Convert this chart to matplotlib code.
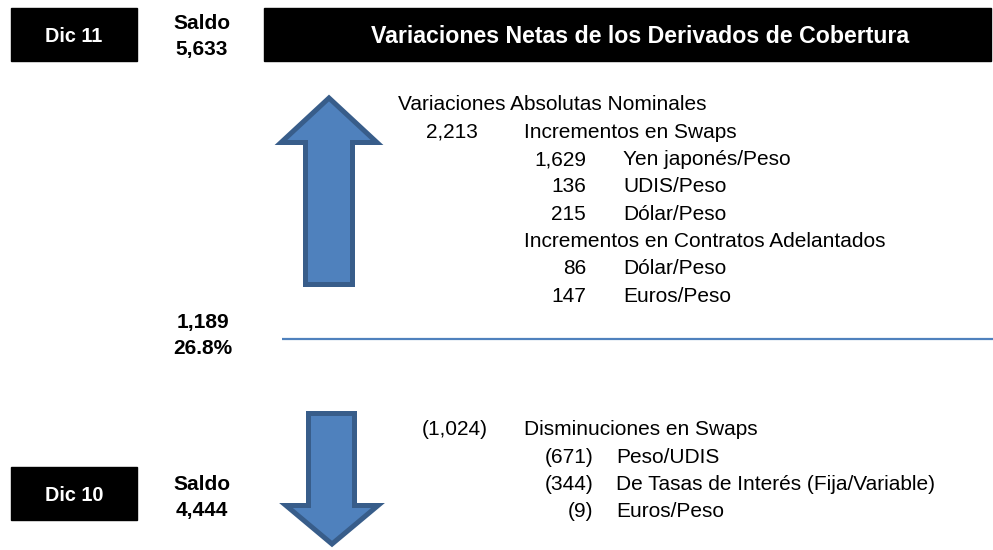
import matplotlib.pyplot as plt
from matplotlib.patches import Polygon, Rectangle

plt.rcParams['font.family'] = ['Liberation Sans', 'DejaVu Sans']

# Datos
titulo = 'Variaciones Netas de los Derivados de Cobertura'
encabezado = 'Variaciones Absolutas Nominales'
periodos = ['Dic 11', 'Dic 10']
saldos = [5633, 4444]

inc_swaps_total = 2213
inc_swaps_labels = ['Yen japonés/Peso', 'UDIS/Peso', 'Dólar/Peso']
inc_swaps_values = [1629, 136, 215]

inc_fwd_title = 'Incrementos en Contratos Adelantados'
inc_fwd_labels = ['Dólar/Peso', 'Euros/Peso']
inc_fwd_values = [86, 147]

dec_swaps_total = -1024
dec_swaps_labels = ['Peso/UDIS', 'De Tasas de Interés (Fija/Variable)', 'Euros/Peso']
dec_swaps_values = [-671, -344, -9]

variacion = saldos[0] - saldos[1]
variacion_pct = variacion / saldos[1] * 100

AZUL = '#4F81BD'
AZUL_BORDE = '#385D8A'
TAM = 15


def fmt(v):
    if v < 0:
        return '({:,})'.format(abs(v))
    return '{:,}'.format(v)


fig = plt.figure(figsize=(9.93, 5.5), dpi=100)
ax = fig.add_axes([0, 0, 1, 1])
ax.set_xlim(0, 993)
ax.set_ylim(550, 0)
ax.axis('off')


def txt(x, y, s, size=TAM, **kw):
    # y es el centro de las mayusculas
    ax.text(x, y + 0.358 * size * 100 / 72, s, fontsize=size, va='baseline', **kw)


def numero(x_der, y, v, size=TAM):
    # formato contable: los positivos dejan hueco para el parentesis
    x = x_der if v < 0 else x_der - 7
    txt(x, y, fmt(v), size, ha='right')


# Cajas negras
for y0, per in zip([8, 467], periodos):
    ax.add_patch(Rectangle((11, y0), 126, 53, color='black'))
    txt(74, y0 + 26.5, per, 14.3, color='white', weight='bold', ha='center')
ax.add_patch(Rectangle((264, 8), 727, 53, color='black'))
txt(640, 34.5, titulo, 16.7, color='white', weight='bold', ha='center')

# Saldos
for yc, s in zip([22, 483], saldos):
    txt(201.5, yc, 'Saldo', 15, weight='bold', ha='center')
    txt(201.5, yc + 25.5, fmt(s), 15, weight='bold', ha='center')

txt(203, 321, fmt(variacion), 15, weight='bold', ha='center')
txt(203, 347, '{:.1f}%'.format(variacion_pct), 15, weight='bold', ha='center')

# Linea horizontal
ax.plot([282, 993], [339, 339], color=AZUL, lw=1.6, solid_capstyle='butt')

# Flechas
up = [(329, 98), (377, 142.5), (352.5, 142.5), (352.5, 284.5), (305.5, 284.5),
      (305.5, 142.5), (281, 142.5)]
ax.add_patch(Polygon(up, closed=True, facecolor=AZUL, edgecolor=AZUL_BORDE,
                     lw=3.6, joinstyle='miter'))
down = [(308.5, 413.5), (354.5, 413.5), (354.5, 505.5), (378, 505.5), (332, 544),
        (286, 505.5), (308.5, 505.5)]
ax.add_patch(Polygon(down, closed=True, facecolor=AZUL, edgecolor=AZUL_BORDE,
                     lw=3.6, joinstyle='miter'))

# Bloque superior
paso = 27.3
y = 103
txt(398, y, encabezado)
y += paso
numero(485, y, inc_swaps_total)
txt(524, y, 'Incrementos en Swaps')
for v, lab in zip(inc_swaps_values, inc_swaps_labels):
    y += paso
    numero(593, y, v)
    txt(623, y, lab)
y += paso
txt(524, y, inc_fwd_title)
for v, lab in zip(inc_fwd_values, inc_fwd_labels):
    y += paso
    numero(593, y, v)
    txt(623, y, lab)

# Bloque inferior
y = 428
numero(488, y, dec_swaps_total)
txt(524, y, 'Disminuciones en Swaps')
for v, lab in zip(dec_swaps_values, dec_swaps_labels):
    y += paso
    numero(593, y, v)
    txt(616, y, lab)

fig.savefig('out.png', dpi=100)
